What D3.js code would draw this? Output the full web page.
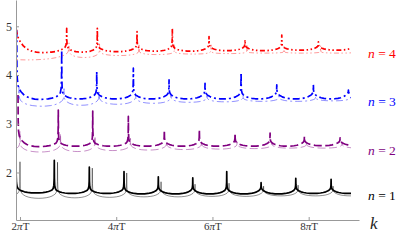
<!DOCTYPE html>
<html>
<head>
<meta charset="utf-8">
<script src="https://cdn.jsdelivr.net/npm/d3@7"></script>
<style>
  body { margin: 0; background: #fff; }
  svg text { font-family: "Liberation Serif", "DejaVu Serif", serif; }
</style>
</head>
<body>
<svg id="chart" width="415" height="240"></svg>
<script>
// k is measured in units of pi*T
var kTicks = [2, 4, 6, 8];
var yTicks = [2, 3, 4, 5];
var seriesLabels = ["1", "2", "3", "4"];
var kEnd = 8.88;

// each curve: cusp positions, spike tops, shoulder height at each cusp, arc minimum between cusps
// n = 1
var n1Cusps  = [1.917, 2.713, 3.441, 4.162, 4.875, 5.591, 6.297, 7.011, 7.732, 8.466, 9.18];
var n1Tops   = [2.45, 2.25, 2.11, 2.02, 1.91, 1.89, 2.02, 1.79, 1.88, 1.86, 1.85];
var n1Joints = [1.72, 1.68, 1.68, 1.68, 1.68, 1.68, 1.68, 1.68, 1.68, 1.68, 1.68];
var n1Lows   = [1.58, 1.57, 1.57, 1.56, 1.56, 1.56, 1.56, 1.56, 1.57, 1.57];
var n1ThinCusps  = [1.21, 2.000, 2.780, 3.503, 4.218, 4.932, 5.638, 6.345, 7.063, 7.780, 8.507, 9.235];
var n1ThinTops   = [2.20, 2.22, 2.21, 2.09, 1.99, 1.81, 1.76, 1.78, 1.72, 1.74, 1.72, 1.72];
var n1ThinJoints = [1.62, 1.62, 1.62, 1.62, 1.62, 1.62, 1.62, 1.62, 1.62, 1.62, 1.62, 1.62];
var n1ThinLows   = [1.50, 1.47, 1.48, 1.49, 1.50, 1.50, 1.51, 1.51, 1.52, 1.52, 1.52];

// n = 2
var n2Cusps  = [1.959, 2.796, 3.512, 4.252, 5.000, 5.728, 6.470, 7.198, 7.911, 8.653, 9.38];
var n2Tops   = [3.59, 3.28, 3.26, 3.15, 2.87, 2.87, 2.81, 2.81, 2.74, 2.71, 2.70];
var n2Joints = [2.80, 2.65, 2.65, 2.65, 2.65, 2.65, 2.65, 2.65, 2.65, 2.65, 2.65];
var n2Lows   = [2.53, 2.54, 2.54, 2.54, 2.54, 2.54, 2.54, 2.54, 2.55, 2.55];
var n2ThinCusps  = [1.169, 2.000, 2.842, 3.559, 4.297, 5.046, 5.773, 6.512, 7.239, 7.956, 8.695, 9.42];
var n2ThinTops   = [2.75, 2.85, 2.80, 2.75, 2.70, 2.65, 2.64, 2.63, 2.62, 2.62, 2.61, 2.61];
var n2ThinJoints = [2.56, 2.56, 2.56, 2.56, 2.56, 2.56, 2.56, 2.56, 2.56, 2.56, 2.56, 2.56];
var n2ThinLows   = [2.44, 2.42, 2.43, 2.45, 2.46, 2.47, 2.48, 2.49, 2.50, 2.50, 2.50];

// n = 3
var n3Cusps  = [1.932, 2.867, 3.595, 4.356, 5.098, 5.846, 6.595, 7.337, 8.098, 8.826, 9.567];
var n3Tops   = [4.92, 4.51, 4.07, 4.14, 3.90, 3.83, 4.05, 3.80, 3.80, 3.69, 3.69];
var n3Joints = [3.84, 3.65, 3.65, 3.65, 3.65, 3.65, 3.65, 3.65, 3.65, 3.65, 3.65];
var n3Lows   = [3.50, 3.51, 3.51, 3.51, 3.51, 3.51, 3.51, 3.51, 3.51, 3.51];
var n3ThinCusps  = [1.065, 1.979, 2.915, 3.643, 4.401, 5.139, 5.888, 6.636, 7.385, 8.144, 8.871, 9.61];
var n3ThinTops   = [3.70, 3.75, 3.72, 3.65, 3.62, 3.60, 3.58, 3.58, 3.57, 3.56, 3.55, 3.55];
var n3ThinJoints = [3.52, 3.52, 3.52, 3.52, 3.52, 3.52, 3.52, 3.52, 3.52, 3.52, 3.52, 3.52];
var n3ThinLows   = [3.40, 3.36, 3.38, 3.40, 3.42, 3.44, 3.45, 3.46, 3.46, 3.47, 3.47];

// n = 4
var n4Cusps  = [1.917, 2.971, 3.607, 4.433, 5.166, 5.929, 6.677, 7.441, 8.202, 8.965];
var n4Tops   = [5.25, 4.96, 4.96, 4.89, 4.96, 4.79, 4.72, 4.82, 4.68, 4.68];
var n4Joints = [4.90, 4.60, 4.60, 4.60, 4.60, 4.60, 4.60, 4.60, 4.60, 4.60];
var n4Lows   = [4.46, 4.47, 4.48, 4.49, 4.49, 4.50, 4.50, 4.51, 4.51];
var n4ThinCusps  = [1.272, 3.019, 3.653, 4.474, 5.212, 5.971, 6.719, 7.488, 8.248, 9.006];
var n4ThinTops   = [4.70, 4.66, 4.64, 4.64, 4.63, 4.62, 4.62, 4.61, 4.60, 4.60];
var n4ThinJoints = [4.50, 4.47, 4.47, 4.47, 4.47, 4.47, 4.47, 4.47, 4.47, 4.47];
var n4ThinLows   = [4.31, 4.36, 4.40, 4.42, 4.43, 4.44, 4.45, 4.45, 4.45];

// shape of half a scallop: distance from cusp (fraction of arc width),
// weight of the shoulder and of the narrow spike
var halfArcD  = [0, 0.004, 0.012, 0.03, 0.06, 0.1, 0.15, 0.22, 0.3, 0.4, 0.5];
var shoulderW = [1, 0.95, 0.87, 0.75, 0.6, 0.45, 0.3, 0.17, 0.08, 0.02, 0];
var spikeW    = [1, 0.35, 0.12, 0.03, 0, 0, 0, 0, 0, 0, 0];

var svg = d3.select("#chart");
var margin = { left: 16, right: 56, top: 2, bottom: 20 };
var width = 415, height = 240;

var x = d3.scaleLinear().domain([1.917, 9.046]).range([margin.left, width - margin.right]);
var y = d3.scaleLinear().domain([1.025, 5.54]).range([height - margin.bottom, 0]);

function scallops(cusps, tops, joints, lows) {
    var pts = [];
    for (var i = 0; i < cusps.length - 1; i++) {
        var w = cusps[i + 1] - cusps[i];
        for (var j = 0; j < halfArcD.length; j++) {
            pts.push([cusps[i] + halfArcD[j] * w,
                lows[i] + (joints[i] - lows[i]) * shoulderW[j] + (tops[i] - joints[i]) * spikeW[j]]);
        }
        for (var j = halfArcD.length - 2; j >= 0; j--) {
            pts.push([cusps[i + 1] - halfArcD[j] * w,
                lows[i] + (joints[i + 1] - lows[i]) * shoulderW[j] + (tops[i + 1] - joints[i + 1]) * spikeW[j]]);
        }
    }
    return pts;
}

var curves = [
    { c: n1ThinCusps, t: n1ThinTops, j: n1ThinJoints, l: n1ThinLows, color: "#000", op: 0.55, w: 0.8, dash: null },
    { c: n1Cusps, t: n1Tops, j: n1Joints, l: n1Lows, color: "#000", op: 1, w: 1.7, dash: null },
    { c: n2ThinCusps, t: n2ThinTops, j: n2ThinJoints, l: n2ThinLows, color: "#800080", op: 0.55, w: 0.8, dash: "8,3.5" },
    { c: n2Cusps, t: n2Tops, j: n2Joints, l: n2Lows, color: "#800080", op: 1, w: 1.7, dash: "8,3.5" },
    { c: n3ThinCusps, t: n3ThinTops, j: n3ThinJoints, l: n3ThinLows, color: "#0000ff", op: 0.55, w: 0.8, dash: "7,3,2,3" },
    { c: n3Cusps, t: n3Tops, j: n3Joints, l: n3Lows, color: "#0000ff", op: 1, w: 1.7, dash: "7,3,2,3" },
    { c: n4ThinCusps, t: n4ThinTops, j: n4ThinJoints, l: n4ThinLows, color: "#ff0000", op: 0.5, w: 0.8, dash: "5,2.5,1.5,2.5,1.5,2.5" },
    { c: n4Cusps, t: n4Tops, j: n4Joints, l: n4Lows, color: "#ff0000", op: 1, w: 1.7, dash: "5,2.5,1.5,2.5,1.5,2.5" }
];

svg.append("clipPath").attr("id", "plotClip")
    .append("rect")
    .attr("x", x(1.917)).attr("y", 0)
    .attr("width", x(kEnd) - x(1.917)).attr("height", height - margin.bottom);

var line = d3.line()
    .x(function (d) { return x(d[0]); })
    .y(function (d) { return y(d[1]); });

var plot = svg.append("g").attr("clip-path", "url(#plotClip)");
curves.forEach(function (cv) {
    plot.append("path")
        .attr("d", line(scallops(cv.c, cv.t, cv.j, cv.l)))
        .attr("fill", "none")
        .attr("stroke", cv.color)
        .attr("stroke-opacity", cv.op)
        .attr("stroke-width", cv.w)
        .attr("stroke-linejoin", "round")
        .attr("stroke-dasharray", cv.dash);
});

// axes
var xAxis = d3.axisBottom(x).tickValues(kTicks).tickSizeInner(-3).tickSizeOuter(0).tickPadding(2);
var gx = svg.append("g").attr("transform", "translate(0," + y(1.025) + ")").call(xAxis);
gx.selectAll(".tick text").text(null).each(function (d) {
    var t = d3.select(this);
    t.append("tspan").text(d);
    t.append("tspan").attr("font-style", "italic").text("\u03c0");
    t.append("tspan").text("T");
});

var yAxis = d3.axisLeft(y).tickValues(yTicks).tickFormat(d3.format("d"))
    .tickSizeInner(-3).tickSizeOuter(0).tickPadding(4);
var gy = svg.append("g").attr("transform", "translate(" + x(1.917) + ",0)").call(yAxis);

[gx, gy].forEach(function (g) {
    g.attr("font-family", null);
    g.select(".domain").attr("stroke", "#999");
    g.selectAll(".tick line").attr("stroke", "#999");
    g.selectAll(".tick text").attr("fill", "#333").attr("font-size", 11);
});
gy.selectAll(".tick text").attr("font-size", 12);

// series labels
var labelColors = ["#000", "#800080", "#0000ff", "#ff0000"];
var labelY = [1.53, 2.47, 3.47, 4.46];
seriesLabels.forEach(function (s, i) {
    var t = svg.append("text")
        .attr("x", 368).attr("y", y(labelY[i]) + 5)
        .attr("font-size", 13.5).attr("fill", labelColors[i]);
    t.append("tspan").attr("font-style", "italic").text("n");
    t.append("tspan").text(" = " + s);
});

svg.append("text").attr("x", 370).attr("y", 229)
    .attr("font-size", 17).attr("font-style", "italic").attr("fill", "#222")
    .text("k");
</script>
</body>
</html>
